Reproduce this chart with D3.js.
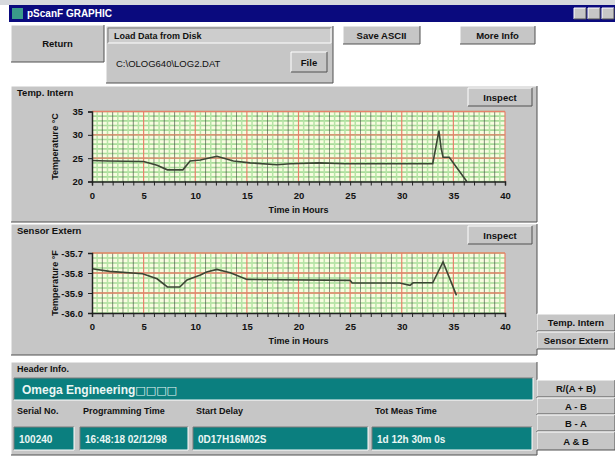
<!DOCTYPE html>
<html>
<head>
<script src="https://d3js.org/d3.v7.min.js" charset="utf-8"></script>
<style>
  body { margin: 0; background: #fff; }
  text { font-family: "Liberation Sans", Arial, sans-serif; }
</style>
</head>
<body>
<svg width="615" height="466"></svg>
<script>
// ---- data ----
var hoursIntern = [0, 1.5, 5, 6.3, 7.3, 8.8, 9.5, 10.5, 12.1, 13.7, 15.3, 17.9, 19.2, 22, 24.5, 33.0, 33.3, 33.6, 33.8, 34.0, 34.6, 36.3];
var tempIntern  = [24.5, 24.4, 24.3, 23.5, 22.5, 22.5, 24.4, 24.6, 25.4, 24.4, 24.0, 23.6, 23.8, 24.0, 23.8, 23.8, 27.3, 30.9, 27.3, 25.2, 25.2, 20.0];

var hoursExtern = [0, 1.7, 4.9, 6.3, 7.3, 8.5, 9.2, 10.5, 11.1, 12.1, 13.1, 13.4, 15.0, 25.0, 25.2, 29.8, 30.8, 31.1, 33.0, 34.0, 35.3];
var tempExtern  = [-35.779, -35.792, -35.804, -35.829, -35.870, -35.870, -35.835, -35.81, -35.795, -35.782, -35.795, -35.799, -35.832, -35.837, -35.85, -35.85, -35.862, -35.849, -35.849, -35.745, -35.912];

var xTicks = [0, 5, 10, 15, 20, 25, 30, 35, 40];
var yTicksIntern = [20, 25, 30, 35];
var yTicksExtern = [-36.0, -35.9, -35.8, -35.7];

var svg = d3.select("svg");
var GRAY = "#c6c6c6", TEAL = "#0b7f7f";

// bevelled box, windows style
function box(x, y, w, h, fill, raised) {
  var g = svg.append("g");
  g.append("rect").attr("x", x).attr("y", y).attr("width", w).attr("height", h).attr("fill", fill);
  var lt = raised ? "#fff" : "#7a7a7a", rb = raised ? "#505050" : "#fff";
  g.append("path").attr("d", "M" + x + "," + (y + h) + "V" + y + "H" + (x + w))
    .attr("stroke", lt).attr("fill", "none");
  g.append("path").attr("d", "M" + x + "," + (y + h) + "H" + (x + w) + "V" + y)
    .attr("stroke", rb).attr("fill", "none");
  return g;
}
function label(x, y, s, opt) {
  opt = opt || {};
  return svg.append("text").attr("x", x).attr("y", y).text(s)
    .attr("font-size", opt.size || 10).attr("font-weight", opt.weight || "bold")
    .attr("fill", opt.fill || "#111").attr("text-anchor", opt.anchor || "start");
}
function button(x, y, w, h, s) {
  box(x, y, w, h, GRAY, true);
  label(x + w / 2, y + h / 2 + 3.5, s, { anchor: "middle", size: 9.5 });
}

// window chrome
svg.append("rect").attr("width", 615).attr("height", 5).attr("fill", "#d6d9dd");
svg.append("rect").attr("x", 9).attr("y", 5).attr("width", 606).attr("height", 17).attr("fill", "#0a0a7e");
svg.append("rect").attr("x", 12).attr("y", 8).attr("width", 11).attr("height", 11).attr("fill", "#3a9a8a");
label(27, 17, "pScanF GRAPHIC", { fill: "#fff", size: 10 });
[574, 588, 602].forEach(function (bx) { box(bx, 8, 12, 11, GRAY, true); });

button(11, 25, 93, 37, "Return");
box(106, 26, 227, 57, GRAY, true);
box(108, 28, 223, 15, "#cdcdcd", false);
label(114, 39, "Load Data from Disk", { size: 9 });
label(116, 67, "C:\\OLOG640\\LOG2.DAT", { size: 9.5, weight: "normal" });
button(291, 52, 36, 20, "File");
button(343, 26, 77, 18, "Save ASCII");
button(460, 26, 75, 18, "More Info");

// chart panels
function chart(cfg) {
  box(11, cfg.panelY, 526, cfg.panelH, GRAY, true);
  label(17, cfg.panelY + 10, cfg.title, { size: 9.5 });
  button(468, cfg.panelY + 2, 64, 18, "Inspect");

  var x = d3.scaleLinear().domain([0, 40]).range([92, 505]);
  var y = d3.scaleLinear().domain(cfg.domain).range([cfg.bottom, cfg.top]);
  var g = svg.append("g");
  g.append("rect").attr("x", x(0)).attr("y", y(cfg.domain[1]))
    .attr("width", x(40) - x(0)).attr("height", y(cfg.domain[0]) - y(cfg.domain[1]))
    .attr("fill", "#f8fde0");

  var hMinor = d3.range(cfg.domain[0], cfg.domain[1] + cfg.step / 2, cfg.step);
  g.selectAll(".hm").data(hMinor).enter().append("line")
    .attr("x1", x(0)).attr("x2", x(40)).attr("y1", y).attr("y2", y)
    .attr("stroke", "#a9dc9a").attr("stroke-width", 1.6);
  var vHalf = d3.range(0.5, 40, 1);
  g.selectAll(".vh").data(vHalf).enter().append("line")
    .attr("x1", x).attr("x2", x).attr("y1", y(cfg.domain[0])).attr("y2", y(cfg.domain[1]))
    .attr("stroke", "#b6e3a6").attr("stroke-width", 1.5);
  var vMinor = d3.range(1, 41, 1).filter(function (d) { return d % 5 !== 0; });
  g.selectAll(".vm").data(vMinor).enter().append("line")
    .attr("x1", x).attr("x2", x).attr("y1", y(cfg.domain[0])).attr("y2", y(cfg.domain[1]))
    .attr("stroke", "#4a5548").attr("stroke-width", 0.9).attr("opacity", 0.75);
  g.selectAll(".vM").data(xTicks.slice(1)).enter().append("line")
    .attr("x1", x).attr("x2", x).attr("y1", y(cfg.domain[0])).attr("y2", y(cfg.domain[1]))
    .attr("stroke", "#e8806a").attr("stroke-width", 1.2);
  g.selectAll(".hM").data(cfg.yTicks.slice(1)).enter().append("line")
    .attr("x1", x(0)).attr("x2", x(40)).attr("y1", y).attr("y2", y)
    .attr("stroke", "#e8806a").attr("stroke-width", 1.3);

  var line = d3.line().x(function (d) { return x(d[0]); }).y(function (d) { return y(d[1]); });
  g.append("path").datum(d3.zip(cfg.hours, cfg.values))
    .attr("d", line).attr("fill", "none").attr("stroke", "#3b4634").attr("stroke-width", 1.6);

  var ax = g.append("g").attr("transform", "translate(0," + y(cfg.domain[0]) + ")")
    .call(d3.axisBottom(x).tickValues(d3.range(0, 41, 1)).tickSize(4)
      .tickFormat(function (d) { return d % 5 === 0 ? d : ""; }));
  var ay = g.append("g").attr("transform", "translate(" + x(0) + ",0)")
    .call(d3.axisLeft(y).tickValues(cfg.yTicks).tickSize(4).tickFormat(cfg.fmt));
  [ax, ay].forEach(function (a) {
    a.select(".domain").attr("stroke", "#222").attr("stroke-width", 1.5);
    a.selectAll(".tick line").attr("stroke", "#222");
    a.selectAll("text").attr("font-size", 9.5).attr("font-weight", "bold").attr("fill", "#111")
      .attr("font-family", "Liberation Sans, Arial, sans-serif");
  });
  ax.selectAll("text").attr("dy", "1.1em");
  ay.selectAll("text").attr("dx", "-2");

  label((x(0) + x(40)) / 2, y(cfg.domain[0]) + 31, "Time in Hours", { anchor: "middle", size: 9 });
  svg.append("text").attr("transform", "translate(58," + (cfg.top + cfg.bottom) / 2 + ") rotate(-90)")
    .attr("text-anchor", "middle").attr("font-size", 9).attr("font-weight", "bold")
    .attr("fill", "#111").text(cfg.yTitle);
}

chart({ panelY: 86, panelH: 136, title: "Temp. Intern", domain: [20, 35], top: 111.5, bottom: 181.5,
  step: 1, yTicks: yTicksIntern, fmt: d3.format("d"), hours: hoursIntern, values: tempIntern,
  yTitle: "Temperature \u00b0C" });
chart({ panelY: 224, panelH: 131, title: "Sensor Extern", domain: [-36.0, -35.7], top: 253, bottom: 313,
  step: 0.025, yTicks: yTicksExtern, fmt: function (d) { return d.toFixed(1); },
  hours: hoursExtern, values: tempExtern, yTitle: "Temperature \u00b0F" });

button(537, 314, 78, 17, "Temp. Intern");
button(537, 332, 78, 17, "Sensor Extern");

// header info
box(11, 362, 526, 93, GRAY, true);
label(17, 372, "Header Info.", { size: 9 });
box(14, 378, 519, 22, TEAL, false);
var hdr = label(22, 394, "Omega Engineering", { fill: "#eaf6f4", size: 12 });
hdr.append("tspan").attr("font-family", "DejaVu Sans").attr("font-weight", "normal")
  .attr("font-size", 11).text("\u25a1\u25a1\u25a1\u25a1");

var fields = [
  { x: 14, w: 60, t: "Serial No.", v: "100240" },
  { x: 80, w: 108, t: "Programming Time", v: "16:48:18 02/12/98" },
  { x: 193, w: 175, t: "Start Delay", v: "0D17H16M02S" },
  { x: 372, w: 160, t: "Tot Meas Time", v: "1d 12h 30m 0s" }
];
fields.forEach(function (f) {
  label(f.x + 3, 414, f.t, { size: 9 });
  box(f.x, 427, f.w, 23, TEAL, false);
  label(f.x + 5, 443, f.v, { fill: "#eaf6f4", size: 10 });
});

button(537, 380, 78, 17, "R/(A + B)");
button(537, 398, 78, 16, "A - B");
button(537, 415, 78, 16, "B - A");
button(537, 432, 78, 18, "A & B");
</script>
</body>
</html>
